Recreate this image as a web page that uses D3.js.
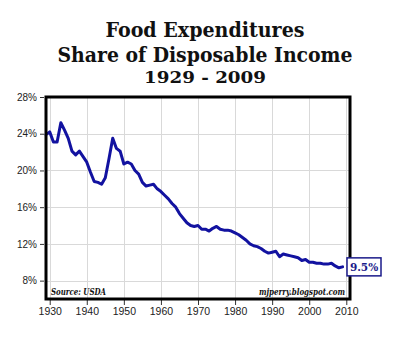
<!DOCTYPE html>
<html>
<head>
<meta charset="utf-8">
<script src="https://cdn.jsdelivr.net/npm/d3@7"></script>
<style>
  html, body { margin: 0; padding: 0; background: #fff; }
  svg { display: block; }
</style>
</head>
<body>
<svg id="chart" width="400" height="337"></svg>
<script>
// Food spending as a share of disposable personal income, 1929-2009 (USDA)
const years = d3.range(1929, 2010);
const foodShare = [
  23.9, 24.2, 23.1, 23.1, 25.2, 24.4, 23.5, 22.1, 21.7, 22.1,
  21.5, 20.9, 19.8, 18.8, 18.7, 18.5, 19.2, 21.3, 23.5, 22.4,
  22.1, 20.7, 20.9, 20.7, 20.0, 19.6, 18.7, 18.3, 18.4, 18.5,
  18.0, 17.7, 17.3, 16.9, 16.4, 16.0, 15.3, 14.8, 14.3, 14.0,
  13.9, 14.0, 13.6, 13.6, 13.4, 13.7, 13.9, 13.6, 13.5, 13.5,
  13.4, 13.2, 13.0, 12.7, 12.4, 12.0, 11.8, 11.7, 11.5, 11.2,
  11.0, 11.1, 11.2, 10.6, 10.9, 10.8, 10.7, 10.6, 10.5, 10.2,
  10.3, 10.0, 10.0, 9.9, 9.9, 9.8, 9.8, 9.9, 9.6, 9.4,
  9.5
];
const xTicks = [1930, 1940, 1950, 1960, 1970, 1980, 1990, 2000, 2010];
const yTicks = [8, 12, 16, 20, 24, 28];
const titleLines = ["Food Expenditures", "Share of Disposable Income", "1929 - 2009"];
const sourceNote = "Source: USDA";
const creditNote = "mjperry.blogspot.com";

const data = years.map((yr, i) => ({ year: yr, value: foodShare[i] }));

const svg = d3.select("#chart");
const x = d3.scaleLinear().domain([1929, 2011]).range([46, 350]);
const y = d3.scaleLinear().domain([6, 28]).range([299, 97]);

const serif = "'DejaVu Serif', 'Liberation Serif', serif";
const sans = "'Liberation Sans', Arial, sans-serif";

// Title block: three centred lines
const titleY = [37, 62, 83];
const titleW = [199, 295, 122];
const titleSize = [20, 20, 17];
titleLines.forEach((t, i) => {
  svg.append("text")
    .attr("x", 205)
    .attr("y", titleY[i])
    .attr("text-anchor", "middle")
    .attr("font-family", serif)
    .attr("font-weight", "bold")
    .attr("font-size", titleSize[i])
    .attr("fill", "#111")
    .attr("textLength", titleW[i])
    .attr("lengthAdjust", "spacingAndGlyphs")
    .text(t);
});

// Grid
const grid = svg.append("g").attr("stroke", "#d9d9d9").attr("stroke-width", 1);
grid.selectAll("line.v").data(xTicks).join("line")
  .attr("class", "v")
  .attr("x1", d => Math.round(x(d)) + 0.5).attr("x2", d => Math.round(x(d)) + 0.5)
  .attr("y1", y(28)).attr("y2", y(6));
grid.selectAll("line.h").data(yTicks).join("line")
  .attr("class", "h")
  .attr("x1", x(1929)).attr("x2", x(2011))
  .attr("y1", d => Math.round(y(d)) + 0.5).attr("y2", d => Math.round(y(d)) + 0.5);

// Axes
const yAxis = d3.axisLeft(y).tickValues(yTicks).tickFormat(d => d + "%").tickSize(4).tickPadding(3);
const gy = svg.append("g").attr("transform", `translate(${x(1929) - 2},0)`).call(yAxis);
gy.select(".domain").remove();
gy.selectAll("text").attr("font-family", sans).attr("font-size", 10).attr("fill", "#222");
gy.selectAll("line").attr("stroke", "#333");

const xAxis = d3.axisBottom(x).tickValues(xTicks).tickFormat(d3.format("d")).tickSize(5).tickPadding(3);
const gx = svg.append("g").attr("transform", `translate(0,${y(6) + 1})`).call(xAxis);
gx.select(".domain").remove();
gx.selectAll("text").attr("font-family", sans).attr("font-size", 10.5).attr("fill", "#222");
gx.selectAll("line").attr("stroke", "#333");

// Series line
const line = d3.line().x(d => x(d.year)).y(d => y(d.value)).curve(d3.curveLinear);
svg.append("path")
  .datum(data)
  .attr("fill", "none")
  .attr("stroke", "#1212a0")
  .attr("stroke-width", 3)
  .attr("stroke-linejoin", "round")
  .attr("stroke-linecap", "round")
  .attr("d", line);

// Plot frame
svg.append("rect")
  .attr("x", x(1929)).attr("y", y(28))
  .attr("width", x(2011) - x(1929)).attr("height", y(6) - y(28))
  .attr("fill", "none").attr("stroke", "#000").attr("stroke-width", 3);

// Notes inside the frame
svg.append("text")
  .attr("x", 51).attr("y", 295)
  .attr("font-family", serif).attr("font-style", "italic").attr("font-weight", "bold")
  .attr("font-size", 9).attr("fill", "#111")
  .attr("textLength", 55).attr("lengthAdjust", "spacingAndGlyphs")
  .text(sourceNote);
svg.append("text")
  .attr("x", 345).attr("y", 295)
  .attr("text-anchor", "end")
  .attr("font-family", serif).attr("font-style", "italic").attr("font-weight", "bold")
  .attr("font-size", 9).attr("fill", "#111")
  .attr("textLength", 86).attr("lengthAdjust", "spacingAndGlyphs")
  .text(creditNote);

// Last-value callout
const last = data[data.length - 1];
const cy = y(last.value);
const lbl = svg.append("g");
lbl.append("rect")
  .attr("x", 347).attr("y", cy - 9)
  .attr("width", 34).attr("height", 18)
  .attr("fill", "#fff").attr("stroke", "#1a1a8a").attr("stroke-width", 1.5);
lbl.append("text")
  .attr("x", 364).attr("y", cy + 4)
  .attr("text-anchor", "middle")
  .attr("font-family", serif).attr("font-weight", "bold")
  .attr("font-size", 10.5).attr("fill", "#1a1a8a")
  .text(last.value + "%");
</script>
</body>
</html>
